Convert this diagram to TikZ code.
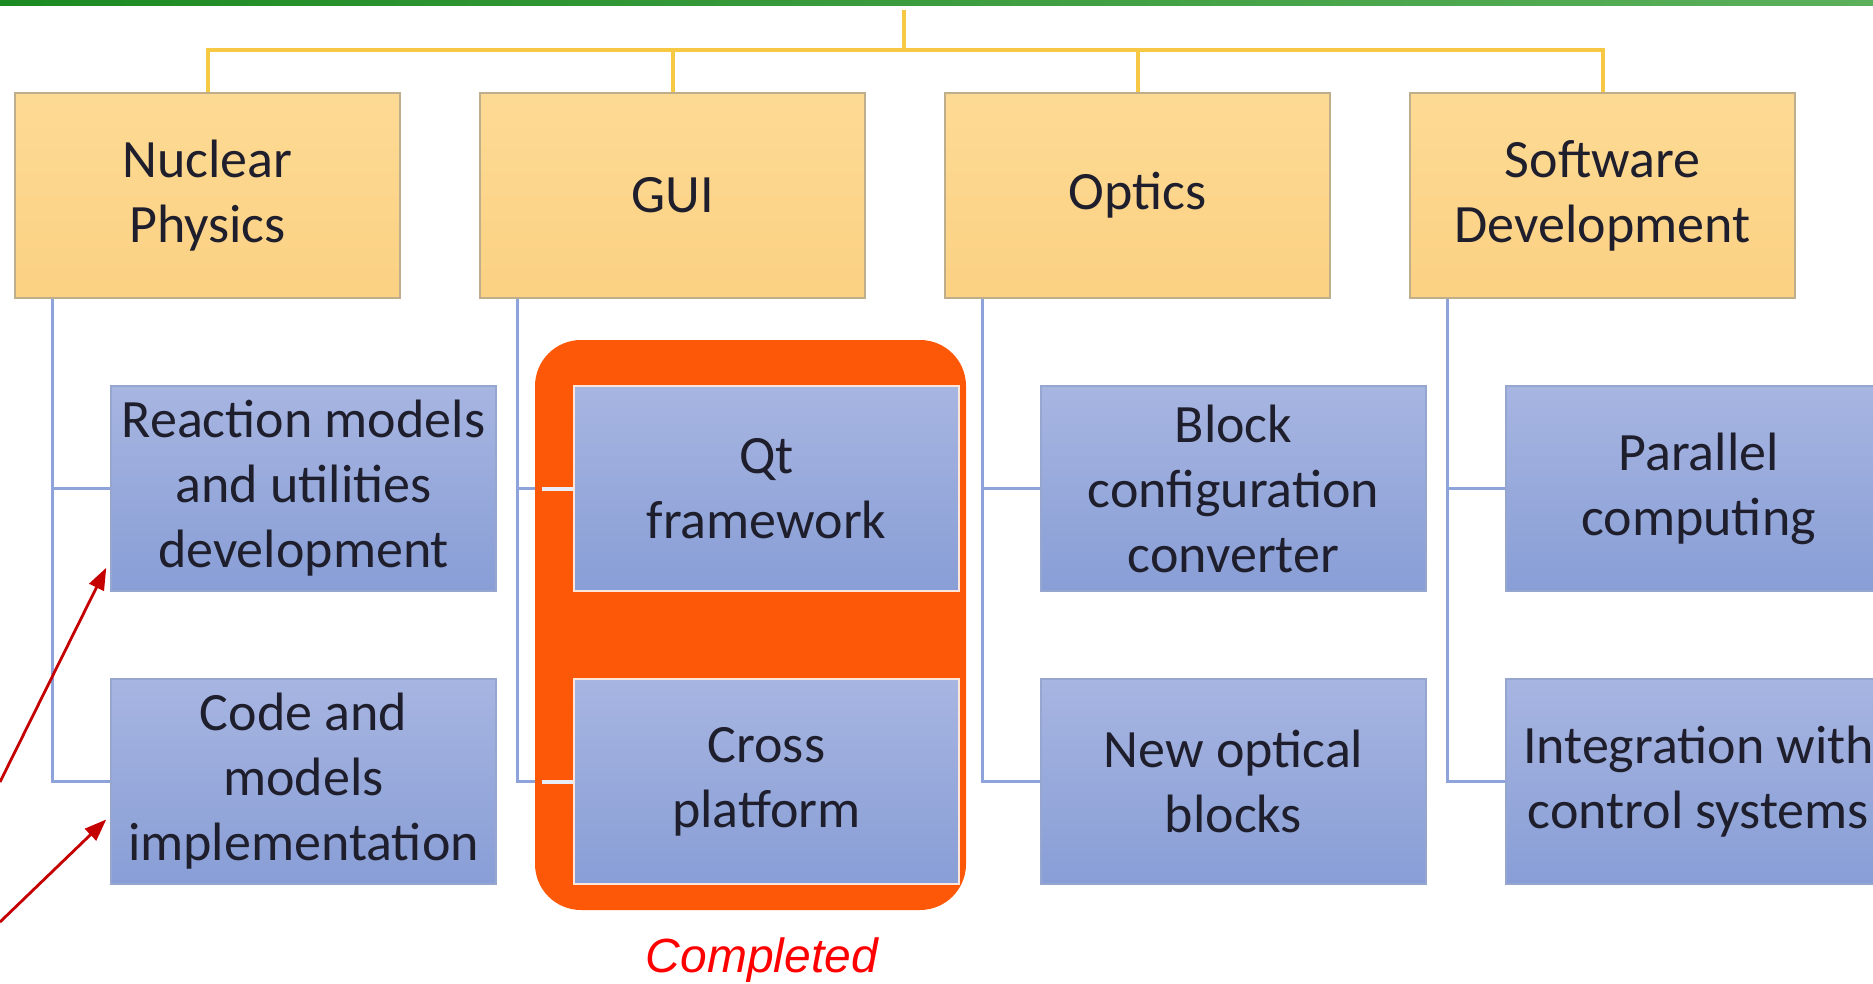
\documentclass[tikz,border=0pt]{standalone}
\usepackage{fontspec}
\setmainfont{Carlito}
\newfontfamily\lsans{Liberation Sans}
\usetikzlibrary{arrows.meta}
\definecolor{txt}{HTML}{1E1E2C}
\definecolor{ytop}{HTML}{FDDA94}
\definecolor{ybot}{HTML}{FBD183}
\definecolor{yborder}{HTML}{BFAE8C}
\definecolor{btop}{HTML}{A7B5E1}
\definecolor{bbot}{HTML}{889ED6}
\definecolor{bborder}{HTML}{97A6CF}
\definecolor{yline}{HTML}{F6C843}
\definecolor{bline}{HTML}{8EA3DA}
\definecolor{orng}{HTML}{FD5808}
\definecolor{arr}{HTML}{C40000}
\definecolor{gleft}{HTML}{1C8A22}
\definecolor{gright}{HTML}{5CB05C}
\pgfdeclarelayer{bg}
\pgfdeclarelayer{mid}
\pgfsetlayers{bg,mid,main}
\tikzset{
  topbox/.style={rectangle, draw=yborder, line width=1.5pt, top color=ytop, bottom color=ybot,
    minimum width=385pt, minimum height=205pt, inner sep=0pt, align=center, text=txt,
    font=\fontsize{54}{65}\selectfont},
  subbox/.style={rectangle, draw=bborder, line width=1.5pt, top color=btop, bottom color=bbot,
    minimum width=385pt, minimum height=205pt, inner sep=0pt, align=center, text=txt,
    font=\fontsize{54}{65}\selectfont},
  subboxhl/.style={subbox, draw=white!85!orng},
  ycon/.style={draw=yline, line width=4pt},
  bcon/.style={draw=bline, line width=3pt},
  stub/.style={draw=white!80!bline, line width=4pt},
  redarrow/.style={draw=arr, line width=2.8pt, -{Triangle[length=22pt,width=16pt]}},
}
\begin{document}
\begin{tikzpicture}[x=1pt,y=-1pt]
\useasboundingbox (0,0) rectangle (1873,984);
\clip (0,0) rectangle (1873,984);
\fill[left color=gleft, right color=gright] (0,0) rectangle (1873,6);

% top level boxes
\node[topbox] (np) at (207.5,195.5) {Nuclear\\Physics};
\node[topbox] (gui) at (672.5,195.5) {GUI};
\node[topbox] (opt) at (1137.5,195.5) {Optics};
\node[topbox] (sd) at (1602.5,195.5) {Software\\Development};

% sub boxes
\node[subbox] (rm) at (303.5,488.5) {Reaction models\\and utilities\\development};
\node[subbox] (cm) at (303.5,781.5) {Code and\\models\\implementation};
\node[subboxhl] (qt) at (766.5,488.5) {Qt\\framework};
\node[subboxhl] (cp) at (766.5,781.5) {Cross\\platform};
\node[subbox] (bc) at (1233.5,488.5) {Block\\configuration\\converter};
\node[subbox] (no) at (1233.5,781.5) {New optical\\blocks};
\node[subbox] (pc) at (1698.5,488.5) {Parallel\\computing};
\node[subbox] (ic) at (1698.5,781.5) {Integration with\\control systems};

\coordinate (root) at (904,10);
\coordinate (bar) at (904,50);

\begin{pgfonlayer}{bg}
  % yellow tree
  \draw[ycon] (root) -- (bar);
  \draw[ycon] (np.north) -- (np.north |- bar) -- (sd.north |- bar) -- (sd.north);
  \draw[ycon] (gui.north) -- (gui.north |- bar);
  \draw[ycon] (opt.north) -- (opt.north |- bar);
  % blue connectors
  \foreach \p/\a/\b in {np/rm/cm, gui/qt/cp, opt/bc/no, sd/pc/ic}{
    \draw[bcon] ([xshift=38pt]\p.south west) |- (\b.west);
    \draw[bcon] ([xshift=38pt]\p.south west |- \a.west) -- (\a.west);
  }
  % completed highlight
  \fill[orng, rounded corners=46pt] (535,340) rectangle (966,910);
\end{pgfonlayer}
\begin{pgfonlayer}{mid}
  \draw[stub] ([xshift=-31pt]qt.west) -- (qt.west);
  \draw[stub] ([xshift=-31pt]cp.west) -- (cp.west);
\end{pgfonlayer}

\node[text=red, font=\lsans\itshape\fontsize{48}{56}\selectfont] (done) at (762,960) {Completed};

% red arrows
\coordinate (t1) at (0,782);
\coordinate (t2) at (0,922);
\draw[redarrow] (t1) -- ([shift={(-4pt,24pt)}]rm.south west);
\draw[redarrow] (t2) -- ([shift={(-4pt,-38pt)}]cm.west);
\end{tikzpicture}
\end{document}
